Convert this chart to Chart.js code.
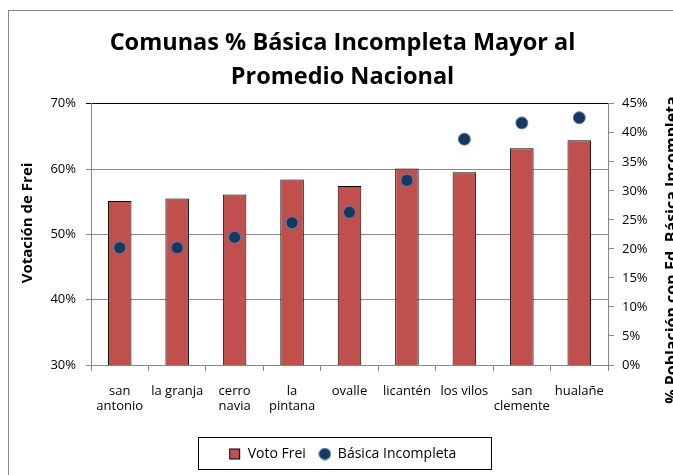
<!DOCTYPE html>
<html>
<head>
<meta charset="utf-8">
<script src="https://cdn.jsdelivr.net/npm/chart.js@4.4.0/dist/chart.umd.min.js"></script>
<style>
  body { margin: 0; background: #fff; }
  #wrap { width: 673px; height: 475px; position: relative; }
</style>
</head>
<body>
<div id="wrap"><canvas id="chart"></canvas></div>
<script>
const comunas = [['san', 'antonio'], 'la granja', ['cerro', 'navia'], ['la', 'pintana'], 'ovalle', 'licantén', 'los vilos', ['san', 'clemente'], 'hualañe'];
const votoFrei = [55.1, 55.5, 56.1, 58.4, 57.4, 60.1, 59.5, 63.2, 64.4];
const basicaIncompleta = [20.2, 20.2, 22.0, 24.5, 26.3, 31.8, 38.9, 41.7, 42.6];
const leftTicks = [30, 40, 50, 60, 70];
const rightTicks = [0, 5, 10, 15, 20, 25, 30, 35, 40, 45];
const leftTitle = 'Votación de Frei';
const rightTitle = '% Población con Ed. Básica Incompleta';

const FONT = "'Open Sans', 'Liberation Sans', sans-serif";
const BAR_COLOR = '#C0504D';
const DOT_COLOR = '#17375E';
const DOT_EDGE = '#4F81BD';

// little legend markers, drawn once
function marker(kind) {
    const c = document.createElement('canvas');
    c.width = 13; c.height = 13;
    const g = c.getContext('2d');
    if (kind === 'rect') {
        g.fillStyle = BAR_COLOR;
        g.fillRect(1, 1, 11, 11);
        g.strokeStyle = '#000';
        g.lineWidth = 1;
        g.strokeRect(1.5, 1.5, 10, 10);
    } else {
        g.beginPath();
        g.arc(6.5, 6.5, 5.8, 0, Math.PI * 2);
        g.fillStyle = DOT_COLOR;
        g.fill();
        g.strokeStyle = DOT_EDGE;
        g.lineWidth = 0.8;
        g.stroke();
    }
    return c;
}

// outer frame, legend box and both axis titles (both read bottom to top)
const decorations = {
    id: 'decorations',
    beforeDraw(chart) {
        const ctx = chart.ctx;
        ctx.save();
        ctx.fillStyle = '#fff';
        ctx.fillRect(0, 0, chart.width, chart.height);
        ctx.strokeStyle = '#878787';
        ctx.lineWidth = 1;
        ctx.strokeRect(8.5, 10.5, 700, 500);
        ctx.restore();
    },
    afterDraw(chart) {
        const ctx = chart.ctx;
        ctx.save();
        ctx.strokeStyle = '#000';
        ctx.lineWidth = 1;
        ctx.strokeRect(198.5, 437.5, 293, 32);
        ctx.restore();

        drawVertical(ctx, leftTitle, 'bold 15px ' + FONT, 28, 223, 'middle');
        drawVertical(ctx, rightTitle, 'bold 16px ' + FONT, 677, 250, 'alphabetic');
    }
};

function drawVertical(ctx, text, font, x, y, baseline) {
    ctx.save();
    ctx.fillStyle = '#000';
    ctx.font = font;
    ctx.translate(x, y);
    ctx.rotate(-Math.PI / 2);
    ctx.textAlign = 'center';
    ctx.textBaseline = baseline;
    ctx.fillText(text, 0, 0);
    ctx.restore();
}

new Chart(document.getElementById('chart'), {
    data: {
        labels: comunas,
        datasets: [
            {
                type: 'scatter',
                label: 'Básica Incompleta',
                data: basicaIncompleta,
                yAxisID: 'y2',
                showLine: false,
                pointRadius: 6,
                pointBackgroundColor: DOT_COLOR,
                pointBorderColor: DOT_EDGE,
                pointBorderWidth: 1,
                order: 0
            },
            {
                type: 'bar',
                label: 'Voto Frei',
                data: votoFrei,
                yAxisID: 'y',
                backgroundColor: BAR_COLOR,
                borderColor: '#000',
                borderWidth: 1,
                barPercentage: 0.41,
                categoryPercentage: 1,
                order: 1
            }
        ]
    },
    options: {
        responsive: true,
        maintainAspectRatio: false,
        animation: false,
        layout: { padding: { top: 12, left: 12, right: 0, bottom: 4 } },
        plugins: {
            title: {
                display: true,
                text: ['Comunas % Básica Incompleta Mayor al', 'Promedio Nacional'],
                color: '#000',
                font: { family: FONT, size: 23.5, weight: 'bold', lineHeight: 1.42 },
                padding: { top: 15, bottom: 10 }
            },
            legend: {
                position: 'bottom',
                reverse: true,
                labels: {
                    color: '#000',
                    font: { family: FONT, size: 14 },
                    usePointStyle: true,
                    boxWidth: 12,
                    boxHeight: 12,
                    padding: 13,
                    generateLabels(chart) {
                        return chart.data.datasets.map((ds, i) => ({
                            text: ds.label,
                            datasetIndex: i,
                            fillStyle: ds.type === 'bar' ? BAR_COLOR : DOT_COLOR,
                            strokeStyle: ds.type === 'bar' ? '#000' : DOT_EDGE,
                            lineWidth: 1,
                            pointStyle: marker(ds.type === 'bar' ? 'rect' : 'circle'),
                            fontColor: '#000'
                        }));
                    }
                }
            },
            tooltip: { enabled: false }
        },
        scales: {
            x: {
                type: 'category',
                offset: true,
                grid: { offset: true, drawOnChartArea: false, tickLength: 6, color: '#888' },
                border: { color: '#888' },
                ticks: {
                    color: '#000',
                    font: { family: FONT, size: 13 },
                    maxRotation: 0,
                    autoSkip: false,
                    padding: 12
                },
                afterFit(scale) { scale.height = 69; }
            },
            y: {
                position: 'left',
                min: 30,
                max: 70,
                afterBuildTicks(scale) { scale.ticks = leftTicks.map(v => ({ value: v })); },
                grid: {
                    color: ctx => (ctx.tick && ctx.tick.value === 70 ? '#000' : '#8c8c8c'),
                    tickLength: 5
                },
                border: { color: '#888' },
                ticks: {
                    color: '#000',
                    font: { family: FONT, size: 13 },
                    padding: 10,
                    callback: v => v + '%'
                },
                afterFit(scale) { scale.width = 79; }
            },
            y2: {
                position: 'right',
                min: 0,
                max: 45,
                afterBuildTicks(scale) { scale.ticks = rightTicks.map(v => ({ value: v })); },
                grid: { drawOnChartArea: false, color: '#888', tickLength: 6 },
                border: { color: '#888' },
                ticks: {
                    color: '#000',
                    font: { family: FONT, size: 13 },
                    padding: 8,
                    callback: v => v + '%'
                },
                afterFit(scale) { scale.width = 65; }
            }
        }
    },
    plugins: [decorations]
});
</script>
</body>
</html>
